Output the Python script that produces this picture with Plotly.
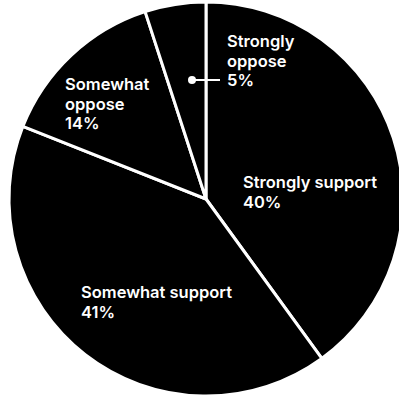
import plotly.graph_objects as go

labels = ["Strongly support", "Somewhat support", "Somewhat oppose", "Strongly oppose"]
values = [40, 41, 14, 5]
label_lines = [["Strongly support", "40%"], ["Somewhat support", "41%"],
               ["Somewhat", "oppose", "14%"], ["Strongly", "oppose", "5%"]]
# label layout in pixels: left x, first baseline y
label_pos = [(243, 188), (81, 298), (65, 90), (227, 47)]
LINE_GAP = 19.5

W, H = 412, 400
FONT = "Inter"
SIZE = 16.5

fig = go.Figure(go.Pie(
    labels=labels, values=values, sort=False, direction="clockwise", rotation=0,
    marker=dict(colors=["#000000"] * 4, line=dict(color="#ffffff", width=3)),
    textinfo="none", hoverinfo="label+percent", showlegend=False,
    domain=dict(x=[9 / W, 403 / W], y=[1 - 396 / H, 1 - 2 / H]),
))

anns = []
for lines, (px, py) in zip(label_lines, label_pos):
    for i, t in enumerate(lines):
        base = py + i * LINE_GAP
        anns.append(dict(text=t, x=(px - 2) / W, y=1 - (base - 6) / H, xref="paper", yref="paper",
                         xanchor="left", yanchor="middle", align="left", showarrow=False,
                         font=dict(family=FONT, size=SIZE, color="white", weight=600)))

shapes = [
    dict(type="line", xref="paper", yref="paper", x0=192 / W, x1=220 / W, y0=1 - 80 / H, y1=1 - 80 / H,
         line=dict(color="white", width=2)),
    dict(type="circle", xref="paper", yref="paper", x0=188 / W, x1=196 / W, y0=1 - 76 / H, y1=1 - 84 / H,
         fillcolor="white", line=dict(color="white", width=0)),
]

fig.update_layout(width=W, height=H, margin=dict(l=0, r=0, t=0, b=0),
                  paper_bgcolor="white", plot_bgcolor="white",
                  annotations=anns, shapes=shapes)
fig.write_html("out.html", config={"displayModeBar": False},
               post_script="document.body.style.margin='0';document.body.style.overflow='hidden';")
